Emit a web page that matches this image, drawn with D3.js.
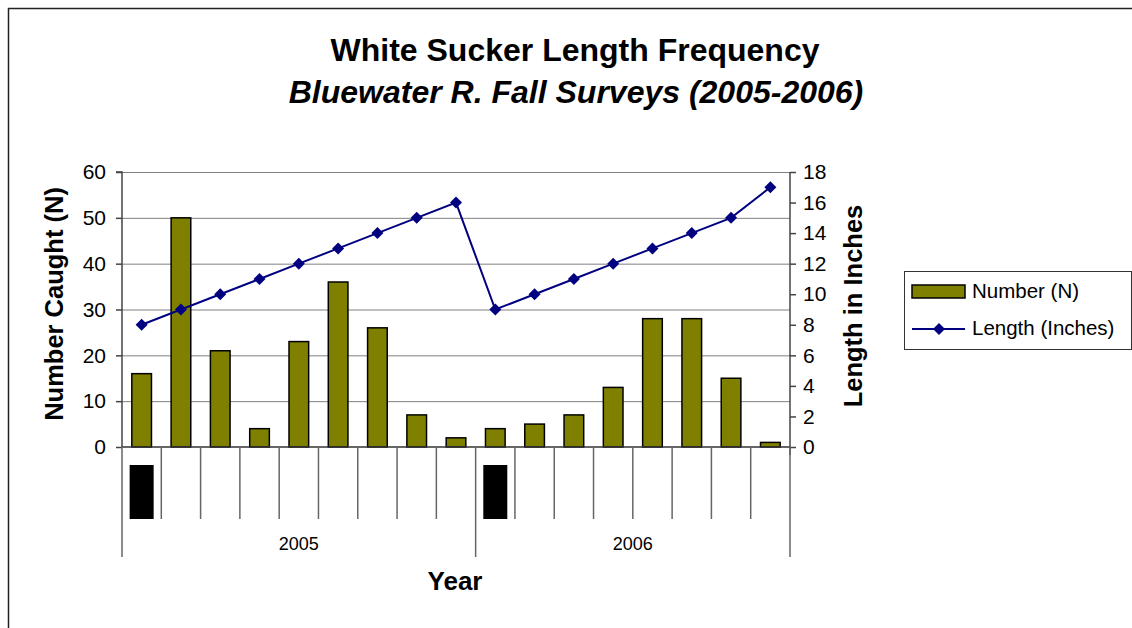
<!DOCTYPE html>
<html><head><meta charset="utf-8">
<script src="https://cdn.jsdelivr.net/npm/d3@7/dist/d3.min.js"></script>
<style>body{margin:0;background:#fff}svg{display:block;font-family:"Liberation Sans",Arial,sans-serif}</style>
</head><body><svg id="c" width="1132" height="628"></svg>
<script>
const years = ["2005", "2006"];
const categoryYear = ["2005","2005","2005","2005","2005","2005","2005","2005","2005",
                      "2006","2006","2006","2006","2006","2006","2006","2006"];
const numberCaught = [16, 50, 21, 4, 23, 36, 26, 7, 2, 4, 5, 7, 13, 28, 28, 15, 1];
const lengthInches = [8, 9, 10, 11, 12, 13, 14, 15, 16, 9, 10, 11, 12, 13, 14, 15, 17];
const leftTicks = [0, 10, 20, 30, 40, 50, 60];
const rightTicks = [0, 2, 4, 6, 8, 10, 12, 14, 16, 18];
const seriesNames = ["Number (N)", "Length (Inches)"];

const svg = d3.select("#c");
const L = 122, R = 790, T = 172, B = 447;
const idx = d3.range(numberCaught.length);
const x = d3.scaleBand().domain(idx).range([L, R]).padding(0);
const yL = d3.scaleLinear().domain([0, 60]).range([B, T]);
const yR = d3.scaleLinear().domain([0, 18]).range([B, T]);
const olive = "#808000", navy = "#000080";

// outer border
svg.append("rect").attr("x", 8.5).attr("y", 8.5).attr("width", 1140).attr("height", 640)
  .attr("fill", "none").attr("stroke", "#222").attr("stroke-width", 1.5);

// titles
svg.append("text").attr("x", 575).attr("y", 61).attr("text-anchor", "middle")
  .attr("font-size", 32).attr("font-weight", "bold").text("White Sucker Length Frequency");
svg.append("text").attr("x", 576).attr("y", 103).attr("text-anchor", "middle")
  .attr("font-size", 32).attr("font-weight", "bold").attr("font-style", "italic")
  .text("Bluewater R. Fall Surveys (2005-2006)");

// gridlines
svg.append("g").selectAll("line").data(leftTicks.slice(1)).join("line")
  .attr("x1", L).attr("x2", R).attr("y1", d => yL(d) + 0.5).attr("y2", d => yL(d) + 0.5)
  .attr("stroke", "#808080").attr("stroke-width", 1);

// left axis
const gl = svg.append("g").attr("transform", `translate(${L},0)`)
  .call(d3.axisLeft(yL).tickValues(leftTicks).tickSize(6).tickPadding(10));
gl.selectAll("text").attr("font-size", 21).attr("fill", "#000").attr("font-family", "Liberation Sans, Arial");
gl.selectAll("line,path").attr("stroke", "#444").attr("stroke-width", 1.5);
gl.select(".domain").attr("d", `M-6,${T}H0V${B}`);

// right axis
const gr = svg.append("g").attr("transform", `translate(${R},0)`)
  .call(d3.axisRight(yR).tickValues(rightTicks).tickSize(6).tickPadding(7));
gr.selectAll("text").attr("font-size", 21).attr("fill", "#000").attr("font-family", "Liberation Sans, Arial");
gr.selectAll("line,path").attr("stroke", "#444").attr("stroke-width", 1.5);
gr.select(".domain").attr("d", `M0,${T}V${B + 8}`);

// axis titles
svg.append("text").attr("transform", "translate(63,304) rotate(-90)").attr("text-anchor", "middle")
  .attr("font-size", 25.5).attr("font-weight", "bold").text("Number Caught (N)");
svg.append("text").attr("transform", "translate(862,306) rotate(-90)").attr("text-anchor", "middle")
  .attr("font-size", 25.5).attr("font-weight", "bold").text("Length in Inches");

// bars
const bw = x.bandwidth() * 0.5;
svg.append("g").selectAll("rect").data(idx).join("rect")
  .attr("x", i => x(i) + (x.bandwidth() - bw) / 2).attr("width", bw)
  .attr("y", i => yL(numberCaught[i])).attr("height", i => B - yL(numberCaught[i]))
  .attr("fill", olive).attr("stroke", "#000").attr("stroke-width", 1.5);

// x axis
svg.append("line").attr("x1", L).attr("x2", R).attr("y1", B).attr("y2", B)
  .attr("stroke", "#333").attr("stroke-width", 1.5);
const groupStarts = idx.filter(i => i === 0 || categoryYear[i] !== categoryYear[i - 1]);
const boundaries = d3.range(idx.length + 1).map(i => i < idx.length ? x(i) : R);
svg.append("g").selectAll("line").data(d3.range(idx.length + 1)).join("line")
  .attr("x1", i => boundaries[i]).attr("x2", i => boundaries[i])
  .attr("y1", B).attr("y2", i => (i === idx.length || groupStarts.includes(i)) ? 557 : 519)
  .attr("stroke", "#666").attr("stroke-width", 1.5);

// inner category marks (rendered as solid blocks in the reference)
svg.append("g").selectAll("rect").data(groupStarts).join("rect")
  .attr("x", i => x(i) + x.bandwidth() / 2 - 12).attr("y", 465).attr("width", 24).attr("height", 54)
  .attr("fill", "#000");

// group labels
svg.append("g").selectAll("text").data(years).join("text")
  .attr("x", yr => {
    const ii = idx.filter(i => categoryYear[i] === yr);
    return (x(ii[0]) + x(ii[ii.length - 1]) + x.bandwidth()) / 2;
  })
  .attr("y", 550).attr("text-anchor", "middle").attr("font-size", 18).text(d => d);

svg.append("text").attr("x", 455).attr("y", 590).attr("text-anchor", "middle")
  .attr("font-size", 26).attr("font-weight", "bold").text("Year");

// line
const cx = i => x(i) + x.bandwidth() / 2;
svg.append("path").datum(idx)
  .attr("d", d3.line().x(cx).y(i => yR(lengthInches[i])))
  .attr("fill", "none").attr("stroke", navy).attr("stroke-width", 2);
const diamond = "M0,-6L6,0L0,6L-6,0Z";
svg.append("g").selectAll("path").data(idx).join("path")
  .attr("transform", i => `translate(${cx(i)},${yR(lengthInches[i])})`)
  .attr("d", diamond).attr("fill", navy);

// legend
const lg = svg.append("g");
lg.append("rect").attr("x", 904.5).attr("y", 271.5).attr("width", 227).attr("height", 78)
  .attr("fill", "#fff").attr("stroke", "#333").attr("stroke-width", 1);
lg.append("rect").attr("x", 912).attr("y", 285).attr("width", 53).attr("height", 13)
  .attr("fill", olive).attr("stroke", "#000").attr("stroke-width", 1.5);
lg.append("line").attr("x1", 912).attr("x2", 965).attr("y1", 329).attr("y2", 329)
  .attr("stroke", navy).attr("stroke-width", 2);
lg.append("path").attr("transform", "translate(939,329)").attr("d", diamond).attr("fill", navy);
lg.selectAll("text.l").data(seriesNames).join("text").attr("class", "l")
  .attr("x", 972).attr("y", (d, i) => 298 + i * 37).attr("font-size", 20.5).text(d => d);
</script></body></html>
